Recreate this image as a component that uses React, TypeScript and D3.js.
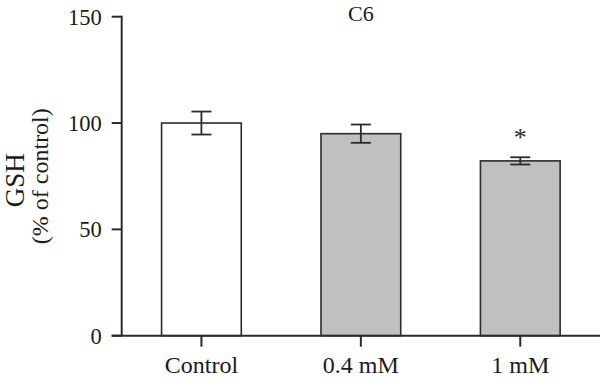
import React from "react";
import * as d3 from "d3";

const categories = ["Control", "0.4 mM", "1 mM"];
const values = [100.0, 95.0, 82.2];
const errors = [5.4, 4.3, 1.7];
const fills = ["#ffffff", "#c1bfbf", "#c1bfbf"];
const significant = [false, false, true];
const yTicks = [0, 50, 100, 150];
const title = "C6";
const yTitle1 = "GSH";
const yTitle2 = "(% of control)";

const W = 600;
const H = 382;
const left = 121.7;
const right = 600;
const top = 16.7;
const bottom = 335.7;
const font = "'Liberation Serif', 'DejaVu Serif', serif";
const ink = "#2b2b2b";

export default function App() {
  const x = d3
    .scaleBand<string>()
    .domain(categories)
    .range([left, right])
    .paddingInner(0.5)
    .paddingOuter(0.25);
  const y = d3.scaleLinear().domain([0, 150]).range([bottom, top]);
  const bw = x.bandwidth();
  const cap = 10;

  return (
    <svg
      width={W}
      height={H}
      style={{ position: "absolute", left: 0, top: 0, background: "#fff" }}
      fontFamily={font}
    >
      {categories.map((c, i) => {
        const x0 = x(c)!;
        const cx = x0 + bw / 2;
        const yv = y(values[i]);
        const yHi = y(values[i] + errors[i]);
        const yLo = y(values[i] - errors[i]);
        return (
          <g key={c}>
            <rect
              x={x0}
              y={yv}
              width={bw}
              height={y(0) - yv}
              fill={fills[i]}
              stroke={ink}
              strokeWidth={1.6}
            />
            <line x1={cx} x2={cx} y1={yHi} y2={yLo} stroke={ink} strokeWidth={1.8} />
            <line x1={cx - cap} x2={cx + cap} y1={yHi} y2={yHi} stroke={ink} strokeWidth={1.8} />
            <line x1={cx - cap} x2={cx + cap} y1={yLo} y2={yLo} stroke={ink} strokeWidth={1.8} />
            {significant[i] && (
              <text x={cx} y={yHi - 11} textAnchor="middle" fontSize={26} fill={ink}>
                *
              </text>
            )}
          </g>
        );
      })}

      <line x1={left} x2={left} y1={top - 1} y2={bottom} stroke={ink} strokeWidth={2} />
      {yTicks.map((t) => (
        <g key={t}>
          <line x1={left - 10} x2={left} y1={y(t)} y2={y(t)} stroke={ink} strokeWidth={2} />
          <text
            x={left - 20}
            y={y(t)}
            dy="0.35em"
            textAnchor="end"
            fontSize={22.5}
            fill="#1a1a1a"
          >
            {t}
          </text>
        </g>
      ))}

      <line x1={left - 10} x2={right} y1={bottom} y2={bottom} stroke={ink} strokeWidth={2} />
      {categories.map((c) => {
        const cx = x(c)! + bw / 2;
        return (
          <g key={c}>
            <line x1={cx} x2={cx} y1={bottom} y2={bottom + 11} stroke={ink} strokeWidth={2} />
            <text x={cx} y={373} textAnchor="middle" fontSize={24} fill="#1a1a1a">
              {c}
            </text>
          </g>
        );
      })}

      <text x={x(categories[1])! + bw / 2} y={21} textAnchor="middle" fontSize={22} fill="#1a1a1a">
        {title}
      </text>

      <g transform={`translate(23.5, ${(top + bottom) / 2 + 4}) rotate(-90)`}>
        <text x={0} y={0} textAnchor="middle" fontSize={27} fill="#1a1a1a">
          {yTitle1}
        </text>
      </g>
      <g transform={`translate(48, ${(top + bottom) / 2}) rotate(-90)`}>
        <text x={0} y={0} textAnchor="middle" fontSize={24} fill="#1a1a1a">
          {yTitle2}
        </text>
      </g>
    </svg>
  );
}
